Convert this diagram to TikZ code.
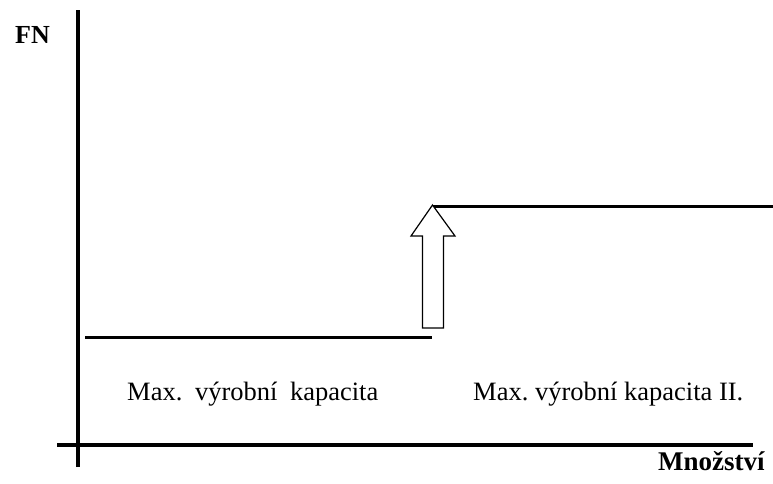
\documentclass[tikz,border=0pt]{standalone}
\usepackage{fontspec}
\setmainfont{Liberation Serif}
\begin{document}
\begin{tikzpicture}[x=1pt,y=-1pt,
  axis/.style={line width=3.5pt},
  level/.style={line width=3pt},
  lbl/.style={inner sep=0pt,anchor=base west,font=\fontsize{26.5}{30}\selectfont},
  axlbl/.style={inner sep=0pt,anchor=base west,font=\bfseries\fontsize{27}{31}\selectfont},
  capacityarrow/.style={line width=1.2pt,fill=white,line join=miter}]
  \useasboundingbox (0,0) rectangle (773,484);
  % axes
  \coordinate (ytop) at (78,10);
  \coordinate (ybot) at (78,467);
  \coordinate (xleft) at (57,445);
  \coordinate (xright) at (753,445);
  \draw[axis] (ybot) -- (ytop);
  \draw[axis] (xleft) -- (xright);
  % capacity levels
  \coordinate (lowA) at (85,337);
  \coordinate (lowB) at (432,337);
  \coordinate (highA) at (432,206);
  \coordinate (highB) at (773,206);
  \draw[level] (lowA) -- (lowB);
  \draw[level] (highA) -- (highB);
  % block arrow showing the capacity step
  \draw[capacityarrow] (422.5,328) -- (422.5,236) -- (411,236) -- (432.5,205)
    -- (455,236) -- (443.5,236) -- (443.5,328) -- cycle;
  % labels
  \node[axlbl,font=\bfseries\fontsize{26}{30}\selectfont] (fn) at (15,44) {FN};
  \node[axlbl] (mn) at (658,470) {Množství};
  \node[lbl] (cap1) at (127,400) {Max.\ \hspace{6pt}výrobní\ \hspace{6pt}kapacita};
  \node[lbl] (cap2) at (473,400) {Max.\ výrobní kapacita II.};
\end{tikzpicture}
\end{document}
